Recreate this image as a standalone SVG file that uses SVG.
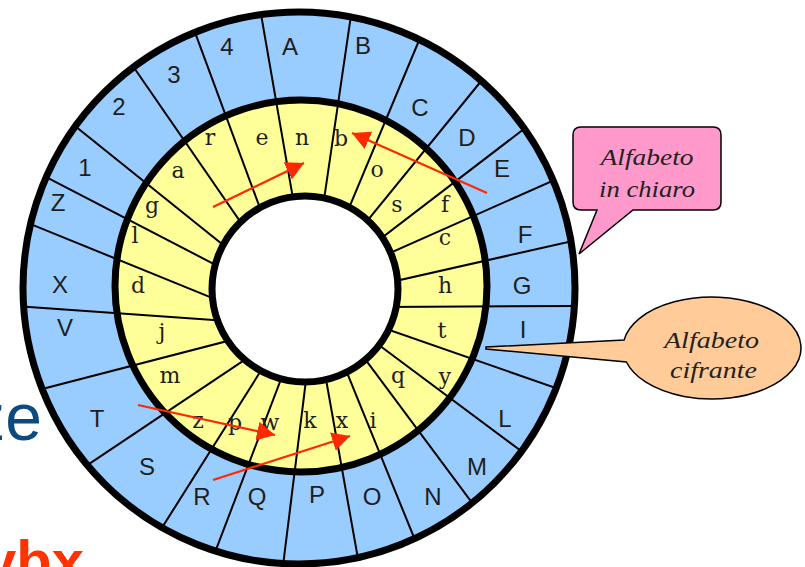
<svg xmlns="http://www.w3.org/2000/svg" width="805" height="567" viewBox="0 0 805 567">
<defs>
<style>
.outer{font-family:"Liberation Sans",Arial,sans-serif;font-size:24px;fill:#1e1e1e;text-anchor:middle}
.inner{font-family:"DejaVu Serif","Liberation Serif",serif;font-size:22px;fill:#1e1e1e;text-anchor:middle}
.div line{stroke:#000;stroke-width:2}
.ring{fill:none;stroke:#000;stroke-width:7}
.arrow{stroke:#ff2800;stroke-width:2.2;fill:none;marker-end:url(#ah)}
.callout{font-family:"Liberation Serif","Times New Roman",serif;font-style:italic;font-size:24px;fill:#222;text-anchor:middle}
.bubble{stroke:#000;stroke-width:1.5}
</style>
<clipPath id="diskclip"><circle cx="299" cy="288" r="277"/></clipPath>
<marker id="ah" markerUnits="userSpaceOnUse" viewBox="0 0 18 19" refX="18" refY="9.5" markerWidth="18" markerHeight="19" orient="auto"><path d="M0,0 L18,9.5 L0,19 Z" fill="#ff2800"/></marker>
</defs>
<rect width="805" height="567" fill="#fff"/>

<g id="slide-text">
<text x="42" y="440" font-family="'Liberation Sans',Arial,sans-serif" font-size="66" fill="#0d4a80" text-anchor="end">ze</text>
<text x="84" y="581" font-family="'Liberation Sans',Arial,sans-serif" font-size="58" font-weight="bold" fill="#ff3300" text-anchor="end">ybx</text>
</g>

<g id="disk">
<circle cx="299" cy="288" r="276" fill="#99ccff"/>
<circle cx="301" cy="286" r="186" fill="#ffff99"/>
<g class="div" clip-path="url(#diskclip)">
<line x1="258.6" y1="0.3" x2="302.3" y2="252.1"/>
<line x1="352.9" y1="2.2" x2="316.3" y2="252.4"/>
<line x1="425.7" y1="24.5" x2="338.8" y2="232.4"/>
<line x1="490.6" y1="69.5" x2="334.1" y2="261.5"/>
<line x1="535.9" y1="119.8" x2="340.4" y2="269.5"/>
<line x1="568.3" y1="173.9" x2="335.2" y2="277.3"/>
<line x1="587.5" y1="237.6" x2="341.4" y2="293.3"/>
<line x1="593" y1="305.9" x2="340" y2="307.3"/>
<line x1="571.9" y1="393.6" x2="338.4" y2="312.3"/>
<line x1="536" y1="462" x2="334.9" y2="312.2"/>
<line x1="481.9" y1="516" x2="332.2" y2="314.9"/>
<line x1="420.5" y1="553.5" x2="327.4" y2="324.4"/>
<line x1="360.5" y1="572.7" x2="316.5" y2="326"/>
<line x1="282.5" y1="569.9" x2="312.4" y2="328.4"/>
<line x1="209.9" y1="565.7" x2="299.4" y2="330.9"/>
<line x1="154.3" y1="539.9" x2="289" y2="326.2"/>
<line x1="75.4" y1="473.1" x2="286.9" y2="331.6"/>
<line x1="30.6" y1="392" x2="278.1" y2="327.9"/>
<line x1="-3" y1="304.6" x2="272.8" y2="324.3"/>
<line x1="14.5" y1="217.5" x2="260.6" y2="317.6"/>
<line x1="34.2" y1="170.8" x2="263.3" y2="289.7"/>
<line x1="64.4" y1="117.5" x2="263.8" y2="277.6"/>
<line x1="125.6" y1="55.5" x2="271.1" y2="266.4"/>
<line x1="190.1" y1="19.2" x2="277.8" y2="256.3"/>
</g>
<circle cx="305" cy="289" r="93" fill="#fff"/>
<circle class="ring" cx="299" cy="288" r="276"/>
<circle class="ring" cx="301" cy="286" r="186"/>
<circle class="ring" cx="305" cy="289" r="93"/>
</g>

<g id="outer-alphabet" class="outer">
<text x="227" y="55">4</text>
<text x="290" y="55">A</text>
<text x="363" y="54">B</text>
<text x="420" y="116">C</text>
<text x="467" y="146">D</text>
<text x="502" y="177">E</text>
<text x="525" y="243">F</text>
<text x="522" y="294">G</text>
<text x="523" y="338">I</text>
<text x="505" y="427">L</text>
<text x="477" y="475">M</text>
<text x="433" y="505">N</text>
<text x="372" y="505">O</text>
<text x="317" y="503">P</text>
<text x="257" y="505">Q</text>
<text x="202" y="505">R</text>
<text x="147" y="475">S</text>
<text x="97" y="427">T</text>
<text x="65" y="336">V</text>
<text x="60" y="293">X</text>
<text x="58" y="211">Z</text>
<text x="85" y="176">1</text>
<text x="119" y="115">2</text>
<text x="174" y="83">3</text>
</g>

<g id="inner-alphabet" class="inner">
<text x="210" y="145">r</text>
<text x="262" y="145">e</text>
<text x="302" y="145">n</text>
<text x="341" y="146">b</text>
<text x="377" y="177">o</text>
<text x="397" y="212">s</text>
<text x="445" y="212">f</text>
<text x="445" y="245">c</text>
<text x="445" y="293">h</text>
<text x="442" y="338">t</text>
<text x="445" y="384">y</text>
<text x="398" y="383">q</text>
<text x="373" y="428">i</text>
<text x="342" y="428">x</text>
<text x="310" y="428">k</text>
<text x="270" y="430">w</text>
<text x="235" y="430">p</text>
<text x="198" y="428">z</text>
<text x="170" y="383">m</text>
<text x="162" y="339">j</text>
<text x="138" y="293">d</text>
<text x="135" y="243">l</text>
<text x="152" y="213">g</text>
<text x="178" y="178">a</text>
</g>

<g id="connectors">
<line class="arrow" x1="213" y1="207" x2="304" y2="163"/>
<line class="arrow" x1="487" y1="193" x2="352" y2="133"/>
<line class="arrow" x1="138" y1="405" x2="275" y2="435"/>
<line class="arrow" x1="213" y1="480" x2="350" y2="436"/>
</g>

<g id="callout-chiaro">
<path class="bubble" fill="#ff99cc" d="M581,127 H713 Q721,127 721,135 V202 Q721,210 713,210 H633 L579,254 L597,210 H581 Q573,210 573,202 V135 Q573,127 581,127 Z"/>
<text class="callout" x="647" y="165" textLength="93" lengthAdjust="spacingAndGlyphs">Alfabeto</text>
<text class="callout" x="647" y="197" textLength="96" lengthAdjust="spacingAndGlyphs">in chiaro</text>
</g>

<g id="callout-cifrante">
<path class="bubble" fill="#ffcc99" d="M624.1,340 L486,347 L486,349 L626.4,362 A89,51 0 1 0 624.1,340 Z"/>
<text class="callout" x="711.5" y="348" textLength="95" lengthAdjust="spacingAndGlyphs">Alfabeto</text>
<text class="callout" x="713.5" y="378" textLength="87" lengthAdjust="spacingAndGlyphs">cifrante</text>
</g>
</svg>
